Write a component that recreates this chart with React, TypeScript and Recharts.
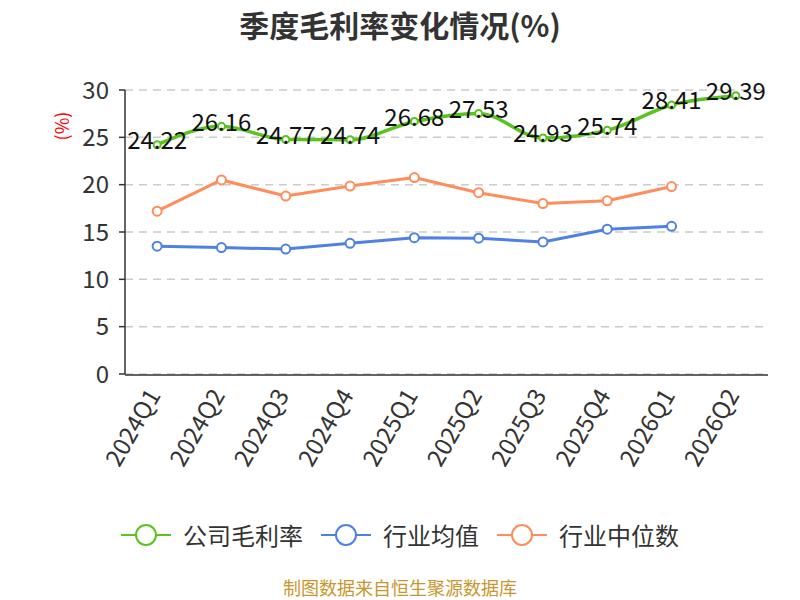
import { LineChart, Line, XAxis, YAxis, CartesianGrid, Legend, LabelList } from "recharts";

const quarters = ["2024Q1", "2024Q2", "2024Q3", "2024Q4", "2025Q1", "2025Q2", "2025Q3", "2025Q4", "2026Q1", "2026Q2"];
const companyMargin = [24.22, 26.16, 24.77, 24.74, 26.68, 27.53, 24.93, 25.74, 28.41, 29.39];
const industryAvg = [13.5, 13.35, 13.2, 13.8, 14.4, 14.35, 13.95, 15.3, 15.6, null];
const industryMedian = [17.2, 20.5, 18.8, 19.85, 20.75, 19.15, 18.0, 18.3, 19.8, null];
const yTicks = [0, 5, 10, 15, 20, 25, 30];
const bandEdges = [0, 1, 2, 3, 4, 5, 6, 7, 8, 9, 10];

const FONT = "'Noto Sans CJK SC', 'Noto Sans', sans-serif";
const GREEN = "#5bc31f";
const BLUE = "#4e80e5";
const ORANGE = "#ff8c5a";

const data = quarters.map((q, i) => ({
  quarter: q,
  company: companyMargin[i],
  avg: industryAvg[i],
  median: industryMedian[i],
}));

const series = [
  { name: "公司毛利率", color: GREEN },
  { name: "行业均值", color: BLUE },
  { name: "行业中位数", color: ORANGE },
];

const QuarterTick = (props: any) => {
  const { x, y, payload } = props;
  return (
    <text
      transform={`translate(${x - 3},${y + 9}) rotate(-60)`}
      textAnchor="end"
      dy="0.35em"
      fontSize={24}
      fill="#333"
      fontFamily={FONT}
    >
      {payload.value}
    </text>
  );
};

const UnitLabel = (props: any) => {
  const { viewBox } = props;
  return (
    <text
      transform={`translate(${viewBox.x + 63},${viewBox.y + 36}) rotate(-90)`}
      textAnchor="middle"
      dy="0.35em"
      fontSize={18}
      fill="#ff0000"
      fontFamily={FONT}
    >
      (%)
    </text>
  );
};

const ValueLabel = (props: any) => {
  const { x, y, value } = props;
  return (
    <text x={x} y={y - 4} textAnchor="middle" dy="0.35em" fontSize={24} fill="#111" fontFamily={FONT}>
      {value}
    </text>
  );
};

const LegendBox = () => (
  <div style={{ display: "flex", justifyContent: "center", alignItems: "center", gap: 18, fontFamily: FONT, fontSize: 24, color: "#333" }}>
    {series.map((s) => (
      <div key={s.name} style={{ display: "flex", alignItems: "center", gap: 12 }}>
        <svg width={50} height={26}>
          <line x1={0} y1={13} x2={50} y2={13} stroke={s.color} strokeWidth={2} />
          <circle cx={25} cy={13} r={10} fill="#fff" stroke={s.color} strokeWidth={2} />
        </svg>
        <span>{s.name}</span>
      </div>
    ))}
  </div>
);

export default function App() {
  return (
    <div style={{ position: "absolute", left: 0, top: 0, width: 800, height: 600, background: "#fff" }}>
      <div
        style={{
          position: "absolute",
          top: 2,
          width: 800,
          textAlign: "center",
          fontFamily: FONT,
          fontSize: 30,
          fontWeight: "bold",
          color: "#333",
        }}
      >
        季度毛利率变化情况(%)
      </div>
      <LineChart width={800} height={600} data={data} margin={{ top: 90, right: 32, bottom: 43, left: 0 }}>
        <CartesianGrid xAxisId="cat" vertical={false} stroke="#ccc" strokeDasharray="8 6" strokeWidth={1.5} />
        <XAxis
          xAxisId="edges"
          type="number"
          domain={[0, 10]}
          ticks={bandEdges}
          tick={false}
          tickSize={7}
          height={142}
          axisLine={{ stroke: "#333", strokeWidth: 1.5 }}
          tickLine={{ stroke: "#333", strokeWidth: 1.5 }}
        />
        <XAxis
          xAxisId="cat"
          dataKey="quarter"
          scale="band"
          interval={0}
          axisLine={false}
          tickLine={false}
          height={1}
          tick={<QuarterTick />}
        />
        <YAxis
          domain={[0, 30]}
          ticks={yTicks}
          width={125}
          tickSize={6}
          tickMargin={10}
          axisLine={{ stroke: "#333", strokeWidth: 1.5 }}
          tickLine={{ stroke: "#333", strokeWidth: 1.5 }}
          tick={{ fontSize: 24, fill: "#333", fontFamily: FONT }}
          label={<UnitLabel />}
        />
        <Legend verticalAlign="bottom" height={40} wrapperStyle={{ left: 0, width: 800 }} content={<LegendBox />} />
        <Line
          xAxisId="cat"
          type="linear"
          dataKey="avg"
          name="行业均值"
          stroke={BLUE}
          strokeWidth={3}
          dot={{ r: 4.5, fill: "#fff", stroke: BLUE, strokeWidth: 2 }}
          activeDot={false}
          isAnimationActive={false}
        />
        <Line
          xAxisId="cat"
          type="linear"
          dataKey="median"
          name="行业中位数"
          stroke={ORANGE}
          strokeWidth={3}
          dot={{ r: 4.5, fill: "#fff", stroke: ORANGE, strokeWidth: 2 }}
          activeDot={false}
          isAnimationActive={false}
        />
        <Line
          xAxisId="cat"
          type="monotone"
          dataKey="company"
          name="公司毛利率"
          stroke={GREEN}
          strokeWidth={3.5}
          dot={{ r: 3.5, fill: "#fff", stroke: GREEN, strokeWidth: 2 }}
          activeDot={false}
          isAnimationActive={false}
        >
          <LabelList dataKey="company" content={<ValueLabel />} />
        </Line>
      </LineChart>
      <div
        style={{
          position: "absolute",
          top: 577,
          width: 800,
          textAlign: "center",
          fontFamily: FONT,
          fontSize: 18,
          lineHeight: "20px",
          color: "#c8962e",
        }}
      >
        制图数据来自恒生聚源数据库
      </div>
    </div>
  );
}
